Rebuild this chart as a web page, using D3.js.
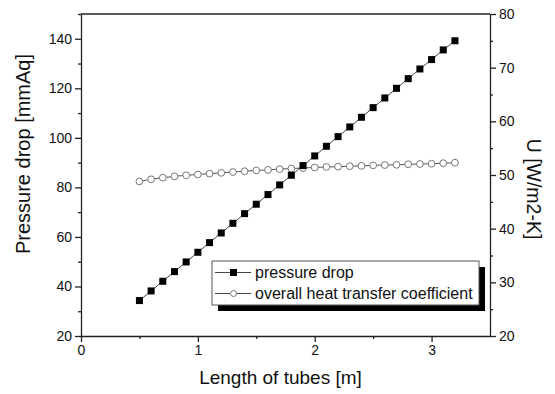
<!DOCTYPE html>
<html>
<head>
<meta charset="utf-8">
<script src="https://cdn.jsdelivr.net/npm/d3@7"></script>
<style>
  body { margin: 0; background: #fff; }
  svg { font-family: "Liberation Sans", Arial, sans-serif; }
  .axis text { font-size: 14px; fill: #111; }
  .axis path, .axis line { stroke: #222; stroke-width: 1.3; }
</style>
</head>
<body>
<svg id="chart"></svg>
<script>
// Length of tubes [m]
const lengths = [0.5, 0.6, 0.7, 0.8, 0.9, 1.0, 1.1, 1.2, 1.3, 1.4, 1.5, 1.6, 1.7, 1.8,
                 1.9, 2.0, 2.1, 2.2, 2.3, 2.4, 2.5, 2.6, 2.7, 2.8, 2.9, 3.0, 3.1, 3.2];
// pressure drop [mmAq]
const pressureDrop = [34.3, 38.2, 42.1, 46.0, 49.9, 53.8, 57.7, 61.6, 65.5, 69.4, 73.2, 77.1, 81.0, 84.9,
                      88.8, 92.7, 96.6, 100.5, 104.4, 108.3, 112.2, 116.1, 120.0, 123.9, 127.8, 131.6, 135.5, 139.2];
// overall heat transfer coefficient U [W/m2-K]
const heatTransfer = [48.8, 49.2, 49.5, 49.75, 49.95, 50.1, 50.25, 50.4, 50.55, 50.7, 50.85, 50.95, 51.1, 51.2,
                      51.3, 51.4, 51.5, 51.55, 51.65, 51.7, 51.8, 51.85, 51.9, 52.0, 52.05, 52.1, 52.2, 52.3];

const xTicks = [0, 1, 2, 3];
const xMinor = [0.5, 1.5, 2.5];
const yLeftTicks = [20, 40, 60, 80, 100, 120, 140];
const yLeftMinor = [30, 50, 70, 90, 110, 130, 150];
const yRightTicks = [20, 30, 40, 50, 60, 70, 80];
const yRightMinor = [25, 35, 45, 55, 65, 75];
const seriesNames = ['pressure drop', 'overall heat transfer coefficient'];

const width = 555, height = 394;
const margin = {top: 14, right: 65, bottom: 58, left: 81};
const w = width - margin.left - margin.right;
const h = height - margin.top - margin.bottom;

const svg = d3.select('#chart').attr('width', width).attr('height', height);
const g = svg.append('g').attr('transform', `translate(${margin.left},${margin.top})`);

const x = d3.scaleLinear().domain([0, 3.5]).range([0, w]);
const yL = d3.scaleLinear().domain([20, 150]).range([h, 0]);
const yR = d3.scaleLinear().domain([20, 80]).range([h, 0]);

// top frame line
g.append('line')
    .attr('x1', 0).attr('x2', w).attr('y1', 0).attr('y2', 0)
    .attr('stroke', '#222').attr('stroke-width', 1.3);

// axes (major + minor ticks)
const addAxis = (axisFn, scale, major, minor, transform) => {
    g.append('g').attr('class', 'axis').attr('transform', transform)
        .call(axisFn(scale).tickValues(minor).tickSize(3).tickSizeOuter(0).tickFormat(''));
    g.append('g').attr('class', 'axis').attr('transform', transform)
        .call(axisFn(scale).tickValues(major).tickSize(6).tickSizeOuter(0).tickPadding(3)
            .tickFormat(d3.format('d')))
        .call(a => a.select('.domain').remove());
};
addAxis(d3.axisBottom, x, xTicks, xMinor, `translate(0,${h})`);
addAxis(d3.axisLeft, yL, yLeftTicks, yLeftMinor, 'translate(0,0)');
addAxis(d3.axisRight, yR, yRightTicks, yRightMinor, `translate(${w},0)`);

// axis titles
svg.append('text')
    .attr('x', margin.left + w / 2 - 5).attr('y', 384)
    .attr('text-anchor', 'middle').attr('font-size', 19).attr('fill', '#111')
    .text('Length of tubes [m]');
svg.append('text')
    .attr('transform', 'translate(30,154) rotate(-90)')
    .attr('text-anchor', 'middle').attr('font-size', 20).attr('fill', '#111')
    .text('Pressure drop [mmAq]');
svg.append('text')
    .attr('transform', 'translate(527,189) rotate(90)')
    .attr('text-anchor', 'middle').attr('font-size', 19.5).attr('fill', '#111')
    .text('U [W/m2-K]');

// U series (right axis)
const uLine = d3.line().x((d, i) => x(lengths[i])).y(d => yR(d));
g.append('path').datum(heatTransfer)
    .attr('d', uLine).attr('fill', 'none').attr('stroke', '#555').attr('stroke-width', 1);
g.selectAll('.u-pt').data(heatTransfer).join('circle')
    .attr('class', 'u-pt')
    .attr('cx', (d, i) => x(lengths[i])).attr('cy', d => yR(d))
    .attr('r', 3.4).attr('fill', '#fff').attr('stroke', '#777').attr('stroke-width', 1);

// pressure drop series (left axis)
const pLine = d3.line().x((d, i) => x(lengths[i])).y(d => yL(d));
g.append('path').datum(pressureDrop)
    .attr('d', pLine).attr('fill', 'none').attr('stroke', '#444').attr('stroke-width', 1);
g.selectAll('.p-pt').data(pressureDrop).join('rect')
    .attr('class', 'p-pt')
    .attr('x', (d, i) => x(lengths[i]) - 3.5).attr('y', d => yL(d) - 3.5)
    .attr('width', 7).attr('height', 7).attr('fill', '#000');

// legend with drop shadow
const lg = svg.append('g').attr('transform', 'translate(212,261)');
const lw = 267, lh = 44;
lg.append('rect').attr('x', 6).attr('y', 6).attr('width', lw).attr('height', lh).attr('fill', '#000');
lg.append('rect').attr('width', lw).attr('height', lh)
    .attr('fill', '#fff').attr('stroke', '#555').attr('stroke-width', 1);
seriesNames.forEach((name, i) => {
    const cy = 11.5 + i * 21;
    lg.append('line').attr('x1', 3).attr('x2', 39).attr('y1', cy).attr('y2', cy)
        .attr('stroke', '#444').attr('stroke-width', 1);
    if (i === 0) {
        lg.append('rect').attr('x', 18).attr('y', cy - 3.5).attr('width', 7).attr('height', 7).attr('fill', '#000');
    } else {
        lg.append('circle').attr('cx', 21.5).attr('cy', cy).attr('r', 3)
            .attr('fill', '#fff').attr('stroke', '#777');
    }
    lg.append('text').attr('x', 43).attr('y', cy + 5.5)
        .attr('font-size', 16).attr('fill', '#111').text(name);
});
</script>
</body>
</html>
